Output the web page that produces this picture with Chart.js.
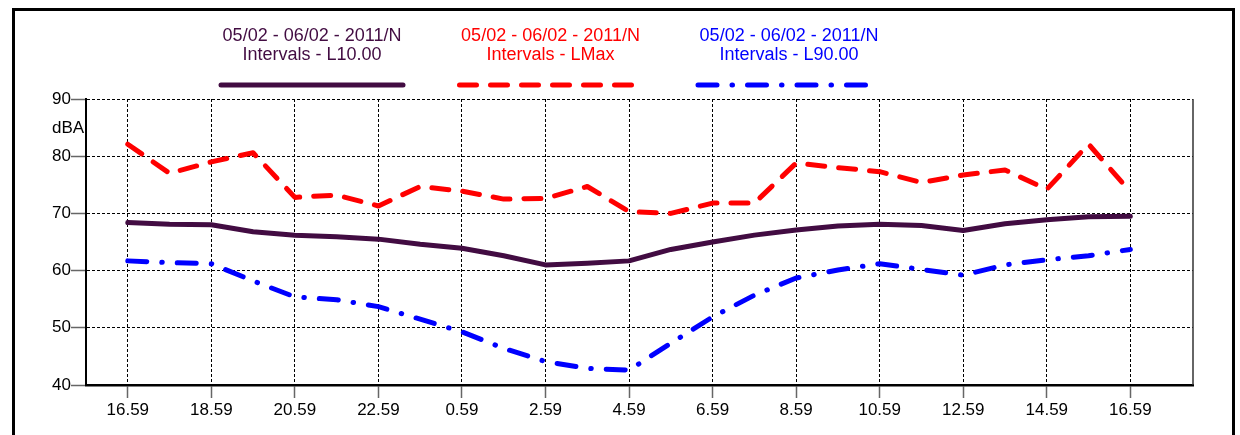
<!DOCTYPE html>
<html>
<head>
<meta charset="utf-8">
<script src="https://cdn.jsdelivr.net/npm/chart.js@4/dist/chart.umd.min.js"></script>
<style>
  body { margin: 0; background: #fff; overflow: hidden; }
  #frame { position: absolute; left: 12px; top: 8px; width: 1217px; height: 460px; border: 3px solid #000; }
  #chart { position: absolute; left: 0; top: 0; }
</style>
</head>
<body>
<div id="frame"></div>
<canvas id="chart" width="1240" height="435"></canvas>
<script>
const hours = ["16.59", "17.59", "18.59", "19.59", "20.59", "21.59", "22.59", "23.59",
  "0.59", "1.59", "2.59", "3.59", "4.59", "5.59", "6.59", "7.59", "8.59", "9.59",
  "10.59", "11.59", "12.59", "13.59", "14.59", "15.59", "16.59"];

const l10 = [68.4, 68.1, 68.0, 66.8, 66.2, 65.9, 65.5, 64.6, 63.9, 62.6, 61.0, 61.3, 61.7,
  63.7, 65.0, 66.2, 67.1, 67.8, 68.1, 67.9, 67.0, 68.2, 68.9, 69.4, 69.5];
const lmax = [82.1, 77.0, 79.0, 80.6, 72.8, 73.2, 71.3, 74.7, 73.9, 72.5, 72.6, 74.7, 70.3,
  70.0, 71.8, 71.8, 78.8, 78.0, 77.3, 75.4, 76.7, 77.6, 74.2, 82.1, 73.8];
const l90 = [61.7, 61.4, 61.2, 58.2, 55.4, 54.9, 53.7, 51.5, 49.3, 46.4, 44.1, 42.9, 42.6,
  47.3, 51.9, 55.7, 58.7, 60.1, 61.2, 60.2, 59.2, 61.0, 61.9, 62.6, 63.7];

const seriesNames = [
  ["05/02 - 06/02 - 2011/N", "Intervals - L10.00"],
  ["05/02 - 06/02 - 2011/N", "Intervals - LMax"],
  ["05/02 - 06/02 - 2011/N", "Intervals - L90.00"]
];
const yTicks = [40, 50, 60, 70, 80, 90];
const unitLabel = "dBA";

const FONT = "'Liberation Sans', Arial, sans-serif";
const PURPLE = "#420c42";

const toPoints = (values) => values.map((v, i) => ({ x: i, y: v }));

// two-line legend over a sample stroke, plus frame bits
const topLegend = {
  id: "topLegend",
  afterDraw(chart) {
    const ctx = chart.ctx;
    const area = chart.chartArea;
    ctx.save();

    // right edge of the plot
    ctx.strokeStyle = "#333";
    ctx.lineWidth = 1.5;
    ctx.beginPath();
    ctx.moveTo(area.right, area.top);
    ctx.lineTo(area.right, area.bottom);
    ctx.stroke();

    // unit label
    ctx.fillStyle = "#000";
    ctx.font = "17px " + FONT;
    ctx.textAlign = "left";
    ctx.textBaseline = "middle";
    ctx.fillText(unitLabel, 52, 128);

    chart.data.datasets.forEach((ds, i) => {
      const cx = 312 + i * 238.5;
      ctx.fillStyle = ds.borderColor;
      ctx.font = "18px " + FONT;
      ctx.textAlign = "center";
      ctx.textBaseline = "middle";
      ds.label.forEach((line, j) => ctx.fillText(line, cx, 36 + j * 19));

      ctx.strokeStyle = ds.borderColor;
      ctx.lineWidth = ds.borderWidth;
      ctx.lineCap = "round";
      ctx.setLineDash(ds.borderDash || []);
      ctx.beginPath();
      ctx.moveTo(cx - 91, 85);
      ctx.lineTo(cx + 91, 85);
      ctx.stroke();
      ctx.setLineDash([]);
    });
    ctx.restore();
  }
};

new Chart(document.getElementById("chart").getContext("2d"), {
  type: "line",
  data: {
    datasets: [
      {
        label: seriesNames[0],
        data: toPoints(l10),
        borderColor: PURPLE,
        borderWidth: 5,
        borderCapStyle: "round",
        borderJoinStyle: "round",
        pointRadius: 0,
        tension: 0
      },
      {
        label: seriesNames[1],
        data: toPoints(lmax),
        borderColor: "#ff0000",
        borderWidth: 5,
        borderDash: [17, 14],
        borderCapStyle: "round",
        borderJoinStyle: "round",
        pointRadius: 0,
        tension: 0
      },
      {
        label: seriesNames[2],
        data: toPoints(l90),
        borderColor: "#0000ff",
        borderWidth: 5,
        borderDash: [19, 15, 0.5, 15],
        borderCapStyle: "round",
        borderJoinStyle: "round",
        pointRadius: 0,
        tension: 0
      }
    ]
  },
  options: {
    responsive: false,
    animation: false,
    layout: { padding: { top: 99, left: 0, right: 47, bottom: 0 } },
    plugins: { legend: { display: false }, tooltip: { enabled: false } },
    scales: {
      x: {
        type: "linear",
        min: -1,
        max: 25.5,
        afterFit: (scale) => { scale.height = 50; },
        afterBuildTicks: (scale) => {
          scale.ticks = hours.map((h, i) => ({ value: i })).filter((t) => t.value % 2 === 0);
        },
        grid: {
          color: "#000",
          lineWidth: 1,
          tickColor: "#666",
          tickWidth: 1.5,
          tickLength: 13,
          tickBorderDash: []
        },
        border: { display: true, color: "#000", width: 2.5, dash: [3, 2] },
        ticks: {
          color: "#000",
          padding: 2,
          maxRotation: 0,
          autoSkip: false,
          font: { family: FONT, size: 17 },
          callback: (value) => hours[value]
        }
      },
      y: {
        min: 40,
        max: 90,
        afterFit: (scale) => { scale.width = 86; },
        afterBuildTicks: (scale) => {
          scale.ticks = yTicks.map((v) => ({ value: v }));
        },
        grid: {
          color: "#000",
          lineWidth: 1,
          tickColor: "#666",
          tickWidth: 1.5,
          tickLength: 15,
          tickBorderDash: []
        },
        border: { display: true, color: "#000", width: 2, dash: [3, 2] },
        ticks: {
          color: "#000",
          padding: 0,
          font: { family: FONT, size: 17 }
        }
      }
    }
  },
  plugins: [topLegend]
});
</script>
</body>
</html>
